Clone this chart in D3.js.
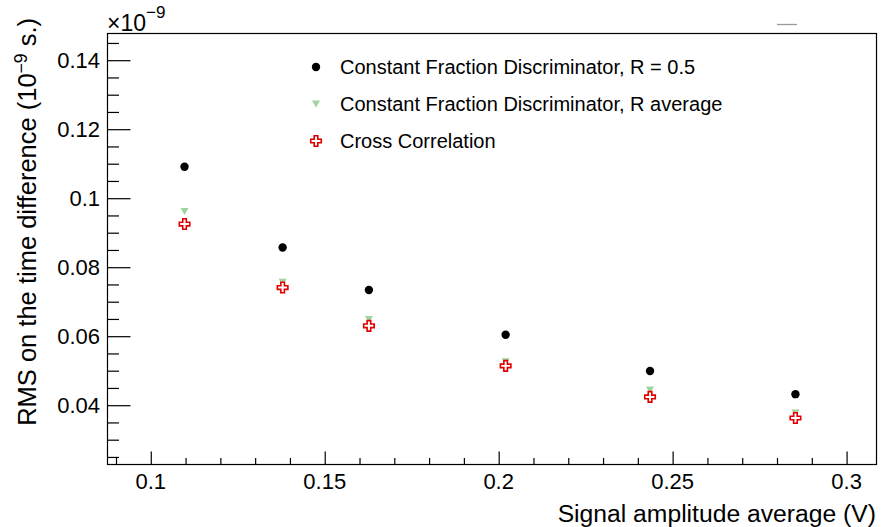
<!DOCTYPE html>
<html>
<head>
<meta charset="utf-8">
<script src="https://cdn.jsdelivr.net/npm/d3@7"></script>
<style>
  html, body { margin: 0; padding: 0; background: #fff; }
  svg { display: block; font-family: "Liberation Sans", Arial, Helvetica, sans-serif; }
</style>
</head>
<body>
<svg id="chart" width="895" height="527"></svg>
<script>
// Signal amplitude average (V) for each measurement
const amplitude = [0.1097, 0.1379, 0.1627, 0.2020, 0.2435, 0.2853];

// RMS of the time difference (units of 1e-9 s)
const cfdHalf    = [0.1091, 0.0857, 0.0734, 0.0604, 0.0499, 0.0432];
const cfdAverage = [0.0962, 0.0757, 0.0649, 0.0526, 0.0444, 0.0378];
const crossCorr  = [0.0925, 0.0741, 0.0630, 0.0514, 0.0424, 0.0363];

const xTicks = [0.1, 0.15, 0.2, 0.25, 0.3];
const yTicks = [0.04, 0.06, 0.08, 0.1, 0.12, 0.14];
const xDomain = [0.08756, 0.3086];
const yDomain = [0.02281, 0.14774];

const legendLabels = [
  "Constant Fraction Discriminator, R = 0.5",
  "Constant Fraction Discriminator, R average",
  "Cross Correlation"
];

const frame = { left: 107.5, right: 876.5, top: 33.5, bottom: 464.5 };

const svg = d3.select("#chart");

const x = d3.scaleLinear().domain(xDomain).range([frame.left, frame.right]);
const y = d3.scaleLinear().domain(yDomain).range([frame.bottom, frame.top]);

// Frame
svg.append("rect")
  .attr("x", frame.left).attr("y", frame.top)
  .attr("width", frame.right - frame.left)
  .attr("height", frame.bottom - frame.top)
  .attr("fill", "none").attr("stroke", "#000").attr("stroke-width", 1.2);

// X axis: major ticks every 0.05, minor every 0.01
const xMinor = d3.range(0.09, 0.3086, 0.01).map(v => +v.toFixed(3))
  .filter(v => !xTicks.some(t => Math.abs(t - v) < 1e-6));
const xAxisMajor = d3.axisTop(x).tickValues(xTicks).tickSize(13).tickFormat("");
const xAxisMinor = d3.axisTop(x).tickValues(xMinor).tickSize(6.5).tickFormat("");
[xAxisMajor, xAxisMinor].forEach(ax => {
  const g = svg.append("g").attr("transform", `translate(0,${frame.bottom})`).call(ax);
  g.select(".domain").remove();
  g.selectAll("line").attr("stroke", "#000").attr("stroke-width", 1.2);
});
svg.append("g").selectAll("text").data(xTicks).join("text")
  .attr("x", d => x(d)).attr("y", 489)
  .attr("text-anchor", "middle")
  .attr("font-size", 22)
  .attr("fill", "#000")
  .text(d => d3.format("~g")(d));

// Y axis: major ticks every 0.02, minor every 0.005
const yMinor = d3.range(0.025, 0.1477, 0.005).map(v => +v.toFixed(4))
  .filter(v => !yTicks.some(t => Math.abs(t - v) < 1e-6));
const yAxisMajor = d3.axisRight(y).tickValues(yTicks).tickSize(23).tickFormat("");
const yAxisMinor = d3.axisRight(y).tickValues(yMinor).tickSize(11.5).tickFormat("");
[yAxisMajor, yAxisMinor].forEach(ax => {
  const g = svg.append("g").attr("transform", `translate(${frame.left},0)`).call(ax);
  g.select(".domain").remove();
  g.selectAll("line").attr("stroke", "#000").attr("stroke-width", 1.2);
});
svg.append("g").selectAll("text").data(yTicks).join("text")
  .attr("x", 100).attr("y", d => y(d) + 8)
  .attr("text-anchor", "end")
  .attr("font-size", 22)
  .attr("fill", "#000")
  .text(d => d3.format("~g")(d));

// Exponent factor above the y axis
const expo = svg.append("text").attr("x", 107).attr("y", 31)
  .attr("font-size", 23).attr("fill", "#000");
expo.append("tspan").text("\u00d710");
expo.append("tspan").attr("dy", -13).attr("font-size", 17).text("\u22129");

// Axis titles
svg.append("text")
  .attr("x", 876).attr("y", 522)
  .attr("text-anchor", "end")
  .attr("font-size", 24.7)
  .attr("fill", "#000")
  .text("Signal amplitude average (V)");

const yTitle = svg.append("text")
  .attr("transform", "translate(36,18) rotate(-90)")
  .attr("text-anchor", "end")
  .attr("font-size", 25.5)
  .attr("fill", "#000");
yTitle.append("tspan").text("RMS on the time difference (10");
yTitle.append("tspan").attr("dy", -9).attr("font-size", 17.5).text("\u22129");
yTitle.append("tspan").attr("dy", 9).text(" s.)");

// Small grey stroke near the top right
svg.append("line")
  .attr("x1", 777).attr("x2", 797).attr("y1", 24.5).attr("y2", 24.5)
  .attr("stroke", "#999").attr("stroke-width", 1.3);

// Marker painters
const crossPath = (s) => {
  const a = s * 0.5, b = s * 0.17;
  return `M${-b},${-a}H${b}V${-b}H${a}V${b}H${b}V${a}H${-b}V${b}H${-a}V${-b}H${-b}Z`;
};
const markers = {
  circle: g => g.append("circle").attr("r", 4.2).attr("fill", "#000"),
  triangle: g => g.append("path")
    .attr("d", "M-4,-3.4L4,-3.4L0,3.6Z")
    .attr("fill", "#9fd49f"),
  cross: g => g.append("path")
    .attr("d", crossPath(10.5))
    .attr("fill", "#fff").attr("stroke", "#e00000").attr("stroke-width", 1.6)
};

const series = [
  { values: cfdHalf, marker: "circle" },
  { values: cfdAverage, marker: "triangle" },
  { values: crossCorr, marker: "cross" }
];

series.forEach(s => {
  svg.append("g").selectAll("g").data(amplitude.map((a, i) => [a, s.values[i]]))
    .join("g")
    .attr("transform", d => `translate(${x(d[0])},${y(d[1])})`)
    .each(function () { markers[s.marker](d3.select(this)); });
});

// Legend
const legendY = [67, 104, 141];
series.forEach((s, i) => {
  const g = svg.append("g").attr("transform", `translate(316,${legendY[i]})`);
  markers[s.marker](g);
  svg.append("text")
    .attr("x", 340).attr("y", legendY[i] + 7)
    .attr("font-size", 20)
    .attr("fill", "#000")
    .text(legendLabels[i]);
});
</script>
</body>
</html>
